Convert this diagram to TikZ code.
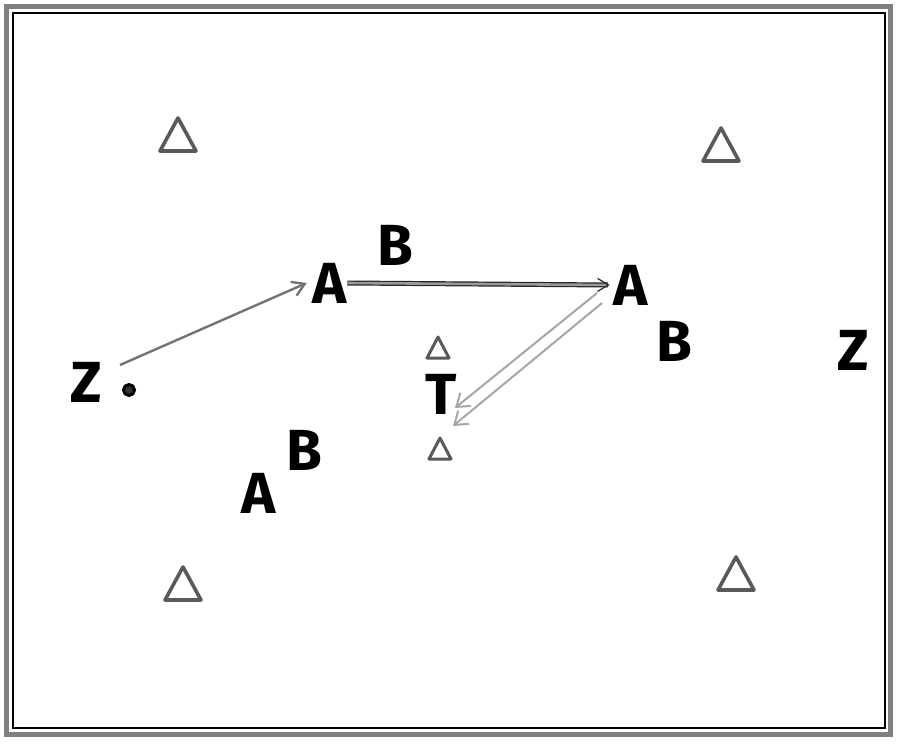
\documentclass[tikz,border=0pt]{standalone}
\usepackage{fontspec}
\setsansfont{Fira Sans}
\usetikzlibrary{arrows.meta}
\begin{document}
\begin{tikzpicture}[x=1pt,y=-1pt,
    player/.style={font=\sffamily\bfseries\fontsize{58}{58}\selectfont, inner sep=0pt},
    cone/.style={draw=black!65, line width=3.6pt, line join=round},
    run/.style={draw=black!55, line width=2.4pt, -{Straight Barb[length=12pt,width=15pt]}},
    back/.style={draw=black!35, line width=2pt, -{Straight Barb[length=12pt,width=17pt]}},
    pass/.style={draw=black!85, double=black!40, line width=1.2pt, double distance=2.6pt,
        -{Straight Barb[length=11pt,width=13pt]}}]
        \useasboundingbox (0,0) rectangle (900,744);

        % Field frame
        \draw[black!50, line width=5pt] (6,6) rectangle (890,734);
        \draw[black, line width=1.4pt] (13,13) rectangle (885,728);

        % Big cones in the corners
        \foreach \x/\y in {178/135, 721/145, 736/574, 183/584} {
            \draw[cone] (\x,\y-17) -- (\x+18,\y+16) -- (\x-18,\y+16) -- cycle;
        }

        % Small cones (gate)
        \foreach \x/\y in {438/348, 440/449} {
            \draw[cone, line width=3pt] (\x,\y-11) -- (\x+11,\y+10) -- (\x-11,\y+10) -- cycle;
        }

        % Players
        \node[player] (zl) at (86,382) {Z};
        \node[player] (zr) at (853,350) {Z};
        \node[player] (a1) at (330,283) {A};
        \node[player] (a2) at (631,285) {A};
        \node[player] (a3) at (259,493) {A};
        \node[player] (b1) at (395,245) {B};
        \node[player] (b2) at (674,341) {B};
        \node[player] (b3) at (304,450) {B};
        \node[player] (t) at (441,394) {T};

        % Ball
        \node[draw, fill=black!80, circle, line width=3pt, minimum size=11pt, inner sep=0pt] (ball) at (129,390) {};

        % Runs and passes
        \coordinate (zrun) at (120,365);
        \draw[run] (zrun) -- ([xshift=-6pt]a1.west);
        \draw[pass] (a1.east) -- ([xshift=-4pt]a2.west);

        \coordinate (d1s) at (597,293);
        \coordinate (d1e) at (455,408);
        \coordinate (d2s) at (602,303);
        \coordinate (d2e) at (453,426);
        \draw[back] (d1s) -- (d1e);
        \draw[back] (d2s) -- (d2e);
    \end{tikzpicture}
\end{document}
